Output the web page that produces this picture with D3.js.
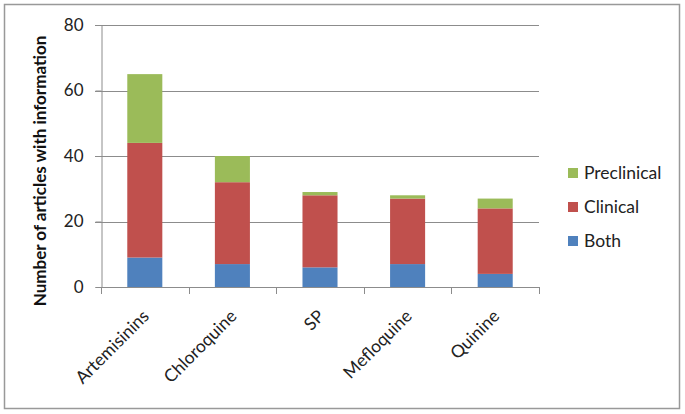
<!DOCTYPE html>
<html>
<head>
<meta charset="utf-8">
<script src="https://cdn.jsdelivr.net/npm/d3@7"></script>
<style>
  body { margin: 0; background: #fff; }
  text { font-family: Lato, "Open Sans", sans-serif; }
</style>
</head>
<body>
<div id="chart"></div>
<script>
// data
const drugs = ['Artemisinins', 'Chloroquine', 'SP', 'Mefloquine', 'Quinine']
const both = [9, 7, 6, 7, 4]
const clinical = [35, 25, 22, 20, 20]
const preclinical = [21, 8, 1, 1, 3]
const seriesNames = ['Both', 'Clinical', 'Preclinical']
const colors = ['#4f81bd', '#c0504d', '#9bbb59']
const yTicks = [0, 20, 40, 60, 80]

const width = 685, height = 414
const plot = { left: 101, right: 539, top: 25, bottom: 287 }

const svg = d3.select('#chart').append('svg')
  .attr('width', width)
  .attr('height', height)

// outer frame
svg.append('rect')
  .attr('x', 4.5).attr('y', 4.5)
  .attr('width', 675).attr('height', 404)
  .attr('fill', '#fff')
  .attr('stroke', '#999')
  .attr('stroke-width', 1.5)

const x = d3.scaleBand()
  .domain(drugs)
  .range([plot.left, plot.right])
  .paddingInner(0.6)
  .paddingOuter(0.3)

const y = d3.scaleLinear()
  .domain([0, 80])
  .range([plot.bottom, plot.top])

// gridlines
svg.append('g')
  .selectAll('line')
  .data(yTicks.slice(1))
  .enter().append('line')
  .attr('x1', plot.left - 6).attr('x2', plot.right)
  .attr('y1', d => Math.round(y(d)) + 0.5)
  .attr('y2', d => Math.round(y(d)) + 0.5)
  .attr('stroke', '#8c8c8c')

// stacked bars
const table = drugs.map((d, i) => ({ drug: d, Both: both[i], Clinical: clinical[i], Preclinical: preclinical[i] }))
const stack = d3.stack().keys(seriesNames)(table)

svg.append('g')
  .selectAll('g')
  .data(stack)
  .enter().append('g')
  .attr('fill', (d, i) => colors[i])
  .selectAll('rect')
  .data(d => d)
  .enter().append('rect')
  .attr('x', d => x(d.data.drug))
  .attr('width', x.bandwidth())
  .attr('y', d => y(d[1]))
  .attr('height', d => y(d[0]) - y(d[1]))

// y axis
const yAxis = svg.append('g')
  .attr('transform', `translate(${plot.left + 0.5},0)`)
  .call(d3.axisLeft(y).tickValues(yTicks).tickSize(6).tickPadding(12))
yAxis.select('.domain').attr('stroke', '#8c8c8c')
yAxis.selectAll('line').attr('stroke', '#8c8c8c')
yAxis.selectAll('text')
  .attr('font-size', 17)
  .attr('fill', '#222')
  .style('font-family', 'Lato, sans-serif')

// x axis, ticks sit on the band edges like in Excel
const step = (plot.right - plot.left) / drugs.length
const xAxis = svg.append('g')
xAxis.append('line')
  .attr('x1', plot.left).attr('x2', plot.right + 0.5)
  .attr('y1', plot.bottom + 0.5).attr('y2', plot.bottom + 0.5)
  .attr('stroke', '#8c8c8c')
xAxis.selectAll('.tk')
  .data(d3.range(drugs.length + 1))
  .enter().append('line')
  .attr('class', 'tk')
  .attr('x1', i => Math.round(plot.left + i * step) + 0.5)
  .attr('x2', i => Math.round(plot.left + i * step) + 0.5)
  .attr('y1', plot.bottom).attr('y2', plot.bottom + 7)
  .attr('stroke', '#8c8c8c')

xAxis.selectAll('.lbl')
  .data(drugs)
  .enter().append('text')
  .attr('class', 'lbl')
  .attr('transform', d => `translate(${x(d) + x.bandwidth() / 2 + 1},313) rotate(-45)`)
  .attr('text-anchor', 'end')
  .attr('dy', '0.35em')
  .attr('font-size', 17.5)
  .attr('fill', '#222')
  .text(d => d)

// y title
svg.append('text')
  .attr('transform', 'translate(40,171) rotate(-90)')
  .attr('text-anchor', 'middle')
  .attr('dy', '0.35em')
  .attr('font-size', 17)
  .attr('font-weight', 'bold')
  .attr('fill', '#111')
  .text('Number of articles with information')

// legend, top entry is the last series
const legend = svg.append('g')
const legendRows = seriesNames.slice().reverse()
legend.selectAll('g')
  .data(legendRows)
  .enter().append('g')
  .attr('transform', (d, i) => `translate(568,${173 + i * 34})`)
  .each(function (d) {
    const g = d3.select(this)
    g.append('rect')
      .attr('x', 0).attr('y', -5)
      .attr('width', 10).attr('height', 10)
      .attr('fill', colors[seriesNames.indexOf(d)])
    g.append('text')
      .attr('x', 16)
      .attr('dy', '0.35em')
      .attr('font-size', 17.5)
      .attr('fill', '#222')
      .text(d)
  })
</script>
</body>
</html>
